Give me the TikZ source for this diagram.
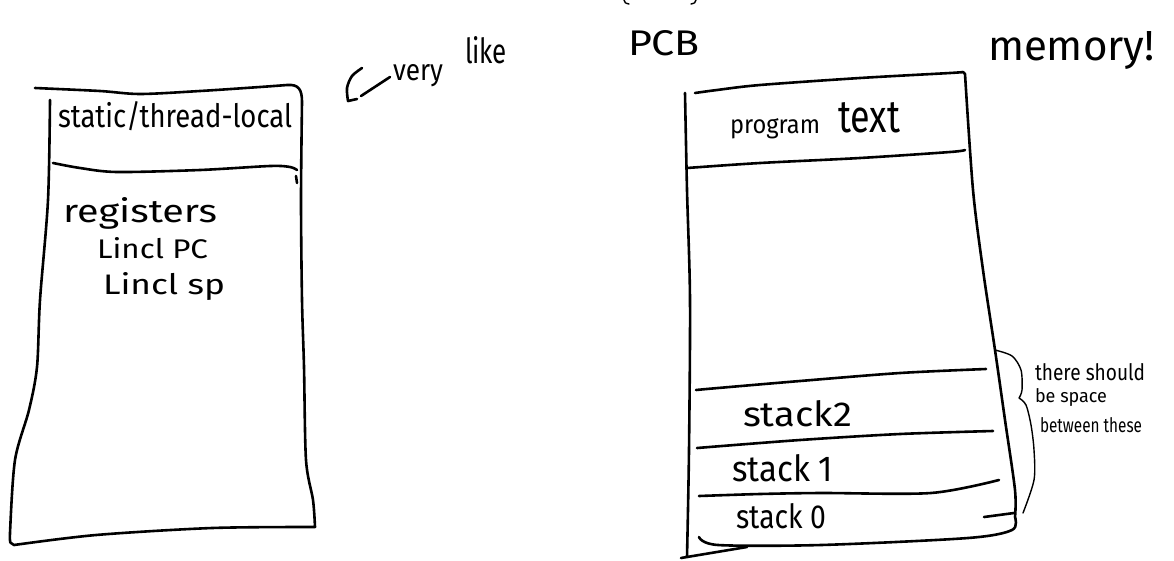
\documentclass[tikz,border=0pt]{standalone}
\usepackage{fontspec}
\setmainfont{Fira Sans}
\usepackage{graphicx}
\begin{document}
\begin{tikzpicture}[x=1pt,y=-1pt,
  pen/.style={line width=2.6pt,line cap=round,line join=round},
  thinpen/.style={line width=1.4pt,line cap=round,line join=round},
  note/.style={inner sep=0pt,outer sep=0pt,anchor=base west}]
\useasboundingbox (0,0) rectangle (1174,560);

% ---------- thread block (left) ----------
\draw[pen] plot[smooth] coordinates {(35,88) (100,91) (140,94) (200,91) (260,87) (287,85)}
  .. controls (299,84) and (302,90) .. (302,102)
  -- plot[smooth] coordinates {(302,102) (301,200) (302,300) (304,367) (306,460) (313,500) (315,527)}
  -- plot[smooth] coordinates {(315,527) (212,528) (96,535) (14,545)}
  -- plot[smooth] coordinates {(11,543) (10,533) (15,460) (29,410) (37,367) (40,300) (48,200) (50,100)};
\draw[pen] plot[smooth] coordinates {(53,163) (80,168) (117,172) (200,170) (270,166) (290,167) (297,170)};
\draw[pen] (296,176) -- (297,183);

\node[note] (tls)  at (58,127)  {\resizebox{234pt}{26pt}{static/thread-local}};
\node[note] (regs) at (63,222)  {\resizebox{154pt}{25pt}{registers}};
\node[note] (pc)   at (97,258)  {\resizebox{111pt}{21pt}{Lincl PC}};
\node[note] (sp)   at (103,294) {\resizebox{122pt}{22pt}{Lincl sp}};

% ---------- remark with arrow ----------
\draw[pen] plot[smooth] coordinates {(362,68) (352,76) (347,88) (348,101)} -- (357,99);
\draw[pen] (361,96) -- (390,77);
\node[note] (very) at (393,80) {\resizebox{50pt}{16pt}{very}};
\node[note] (like) at (465,63) {\resizebox{42pt}{27pt}{like}};
\node[note] (pcb)  at (628,55) {\resizebox{72pt}{25pt}{PCB}};

% bits of a bracket cut off at the top edge
\draw[thinpen] (624,0) .. controls (625,3) .. (629,4);
\draw[thinpen] (696,0) .. controls (695,3) .. (691,4);

\node[note] (mem) at (988,60) {\resizebox{167pt}{!}{memory!}};

% ---------- address space (right) ----------
\draw[pen] plot[smooth] coordinates {(685,93) (687,190) (690,300) (689,450) (687,557)};
\draw[pen] plot[smooth] coordinates {(695,93) (717,90) (760,85) (860,78) (950,73) (963,72)}
  -- plot[smooth] coordinates {(965,74) (973,190) (983,270) (995,350) (1005,420) (1015,490) (1015,517)}
  -- plot[smooth] coordinates {(1015,517) (1012,530) (968,538) (821,545) (718,545) (699,537)};
\draw[pen] (984,517) -- (1014,513);
\draw[pen] (681,558) -- (747,547);

\draw[pen] plot[smooth] coordinates {(687,168) (760,163) (860,158) (950,152) (965,150)};
\draw[pen] plot[smooth] coordinates {(696,390) (718,388) (800,381) (900,373) (986,369)};
\draw[pen] plot[smooth] coordinates {(697,448) (800,440) (900,434) (993,431)};
\draw[pen] plot[smooth] coordinates {(699,496) (760,494) (821,493) (931,493) (999,480)};

\node[note] (prog)   at (730,133) {\resizebox{90pt}{15pt}{program}};
\node[note] (text)   at (838,132) {\resizebox{62pt}{30pt}{text}};
\node[note] (stk2)   at (743,426) {\resizebox{109pt}{26pt}{stack2}};
\node[note] (stk1)   at (732,481) {\resizebox{101pt}{27pt}{stack 1}};
\node[note] (stk0)   at (736,528) {\resizebox{90pt}{25pt}{stack 0}};

% brace over the stacks
\draw[thinpen] plot[smooth] coordinates {(995,350) (1012,356) (1021,370) (1022,390) (1019,398)}
  -- plot[smooth] coordinates {(1019,398) (1026,405) (1031,425) (1034,450) (1034,480) (1023,513)};
\node[note] (n1) at (1035,380) {\resizebox{110pt}{17pt}{there should}};
\node[note] (n2) at (1035,402) {\resizebox{72pt}{14pt}{be space}};
\node[note] (n3) at (1040,432) {\resizebox{102pt}{15pt}{between these}};
\end{tikzpicture}
\end{document}
